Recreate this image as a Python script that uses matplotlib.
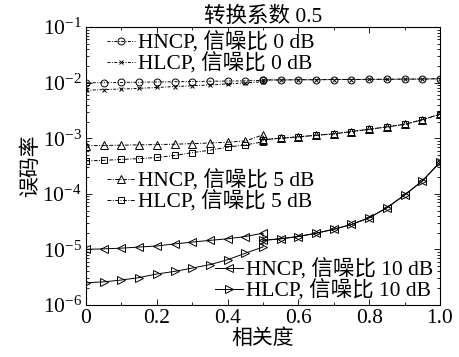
import numpy as np
import matplotlib.pyplot as plt
from matplotlib.ticker import LogLocator, FixedLocator, NullFormatter

plt.rcParams['font.family'] = ['Liberation Serif', 'Noto Sans CJK SC']
plt.rcParams['mathtext.fontset'] = 'custom'
plt.rcParams['mathtext.rm'] = 'Liberation Serif'
plt.rcParams['axes.unicode_minus'] = False

# correlation 0 ... 0.5 (separate curves), 0.5 ... 1.0 (curves coincide)
x_low = [0.0, 0.05, 0.1, 0.15, 0.2, 0.25, 0.3, 0.35, 0.4, 0.45, 0.5]
x_high = [0.5, 0.55, 0.6, 0.65, 0.7, 0.75, 0.8, 0.85, 0.9, 0.95, 1.0]

# SNR 0 dB
hncp_0 = [1.00e-2, 1.00e-2, 1.01e-2, 1.02e-2, 1.03e-2, 1.04e-2, 1.05e-2, 1.06e-2, 1.07e-2, 1.08e-2, 1.10e-2]
hlcp_0 = [7.3e-3, 7.5e-3, 7.7e-3, 7.9e-3, 8.2e-3, 8.5e-3, 8.8e-3, 9.1e-3, 9.5e-3, 9.9e-3, 1.04e-2]
both_0 = [1.12e-2, 1.12e-2, 1.13e-2, 1.13e-2, 1.14e-2, 1.14e-2, 1.15e-2, 1.15e-2, 1.16e-2, 1.16e-2, 1.18e-2]

# SNR 5 dB
hncp_5 = [7.3e-4, 7.4e-4, 7.5e-4, 7.6e-4, 7.7e-4, 7.8e-4, 8.0e-4, 8.2e-4, 8.5e-4, 8.9e-4, 1.15e-3]
hlcp_5 = [3.9e-4, 4.0e-4, 4.15e-4, 4.3e-4, 4.5e-4, 4.9e-4, 5.5e-4, 6.1e-4, 6.9e-4, 7.6e-4, 8.6e-4]
both_5 = [9.4e-4, 1.0e-3, 1.06e-3, 1.13e-3, 1.2e-3, 1.32e-3, 1.45e-3, 1.6e-3, 1.78e-3, 2.15e-3, 2.7e-3]

# SNR 10 dB
hncp_10 = [1.0e-5, 1.02e-5, 1.05e-5, 1.1e-5, 1.15e-5, 1.25e-5, 1.35e-5, 1.45e-5, 1.55e-5, 1.7e-5, 1.95e-5]
hlcp_10 = [2.5e-6, 2.6e-6, 2.8e-6, 3.1e-6, 3.6e-6, 4.0e-6, 4.6e-6, 5.3e-6, 6.5e-6, 8.5e-6, 1.1e-5]
both_10 = [1.45e-5, 1.55e-5, 1.7e-5, 1.95e-5, 2.3e-5, 2.8e-5, 3.7e-5, 5.6e-5, 9.5e-5, 1.7e-4, 3.7e-4]

labels = ['HNCP, 信噪比 0 dB', 'HLCP, 信噪比 0 dB',
          'HNCP, 信噪比 5 dB', 'HLCP, 信噪比 5 dB',
          'HNCP, 信噪比 10 dB', 'HLCP, 信噪比 10 dB']

fig = plt.figure(figsize=(4.6, 3.57), dpi=100)
ax = fig.add_axes([0.187, 0.146, 0.7695, 0.778])

xs = x_low + x_high
lw = 0.7
kw = dict(color='black', lw=lw, mfc='none', mew=0.7)

h1, = ax.plot(xs, hncp_0 + both_0, ls=(0, (3, 1.5, 1, 1.5)), marker='o', ms=5, label=labels[0], **kw)
h2, = ax.plot(xs, hlcp_0 + both_0, ls=(0, (3, 1.5, 1, 1.5)), marker='x', ms=3, label=labels[1], **kw)
h3, = ax.plot(xs, hncp_5 + both_5, ls=(0, (4, 1.5, 1, 1.5)), marker='^', ms=5.5, label=labels[2], **kw)
h4, = ax.plot(xs, hlcp_5 + both_5, ls=(0, (4, 1.5, 1, 1.5)), marker='s', ms=5, label=labels[3], **kw)
h5, = ax.plot(xs, hncp_10 + both_10, ls='-', marker='<', ms=5.5, label=labels[4], **kw)
h6, = ax.plot(xs, hlcp_10 + both_10, ls='-', marker='>', ms=5.5, label=labels[5], **kw)

ax.set_yscale('log')
ax.set_ylim(1e-6, 1e-1)
ax.set_xlim(0, 1.0)
ax.xaxis.set_major_locator(FixedLocator([0, 0.2, 0.4, 0.6, 0.8, 1.0]))
ax.set_xticklabels(['0', '0.2', '0.4', '0.6', '0.8', '1.0'])
ax.xaxis.set_minor_locator(FixedLocator([0.1, 0.3, 0.5, 0.7, 0.9]))
ax.yaxis.set_major_locator(LogLocator(base=10, numticks=10))
ax.yaxis.set_minor_locator(LogLocator(base=10, subs=np.arange(2, 10), numticks=20))
ax.yaxis.set_minor_formatter(NullFormatter())
ax.tick_params(which='both', direction='in', top=True, right=True, labelsize=15.5, width=0.6, pad=3)
ax.tick_params(which='major', length=4)
ax.tick_params(which='minor', length=2)
for s in ax.spines.values():
    s.set_linewidth(0.8)

ax.set_title('转换系数 0.5', fontsize=15.5, pad=3)
ax.set_xlabel('相关度', fontsize=15, labelpad=1)
ax.set_ylabel('误码率', fontsize=15, labelpad=1)

lkw = dict(frameon=False, fontsize=15.5, handlelength=1.3, handletextpad=0.15,
           borderpad=0, labelspacing=0.0, borderaxespad=0)
leg1 = ax.legend(handles=[h1, h2], loc='upper left', bbox_to_anchor=(0.06, 0.983), **lkw)
ax.add_artist(leg1)
leg2 = ax.legend(handles=[h3, h4], loc='upper left', bbox_to_anchor=(0.06, 0.485), **lkw)
ax.add_artist(leg2)
ax.legend(handles=[h5, h6], loc='lower right', bbox_to_anchor=(0.98, 0.012), **lkw)

fig.savefig('out.png', dpi=100)
